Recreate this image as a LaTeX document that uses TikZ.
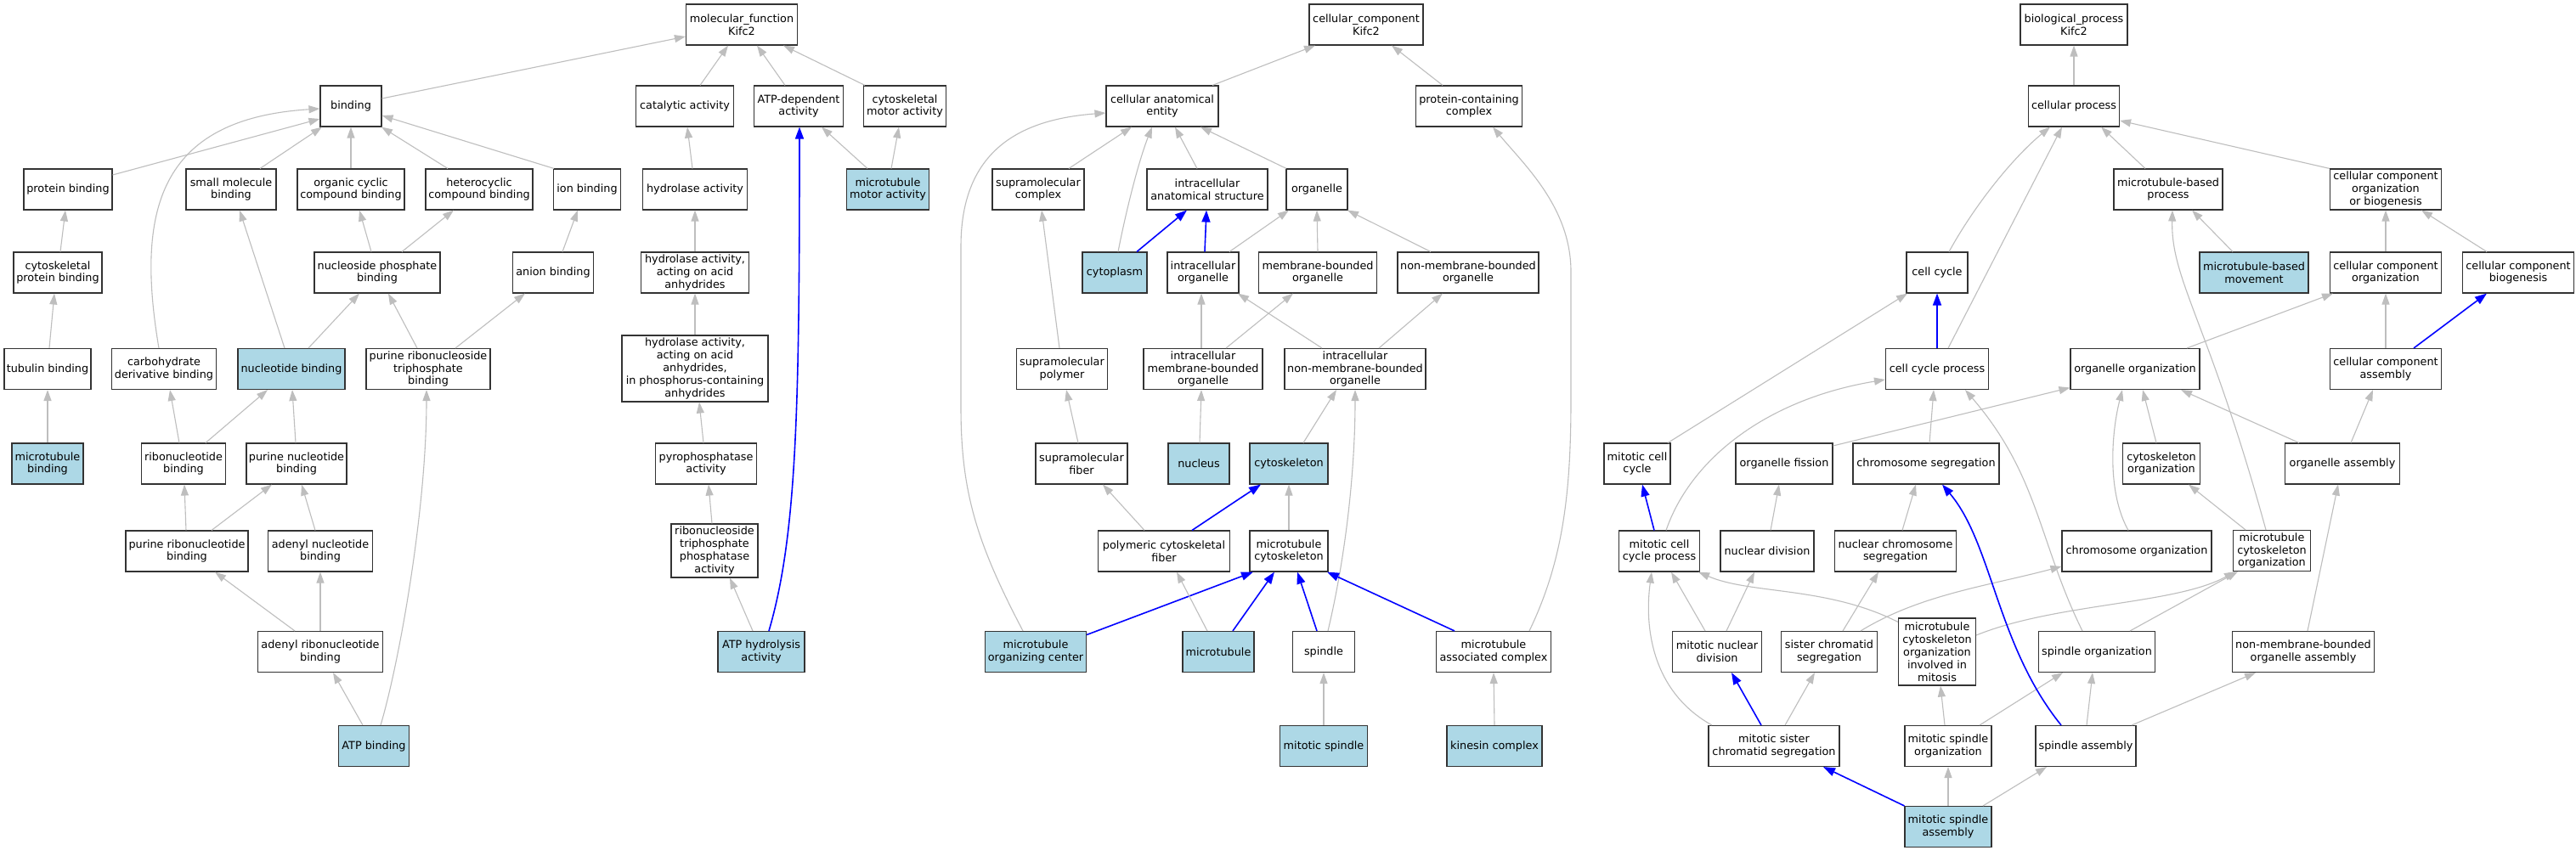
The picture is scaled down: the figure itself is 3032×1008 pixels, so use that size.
\documentclass[tikz,border=0pt]{standalone}
\usepackage{fontspec}
\setmainfont{DejaVu Sans}
\usetikzlibrary{arrows.meta}
\definecolor{edgegray}{HTML}{BEBEBE}
\definecolor{hlblue}{HTML}{ADD8E6}
\definecolor{edgeblue}{HTML}{0000FF}
\begin{document}
\begin{tikzpicture}[x=1pt,y=-1pt,
  box/.style={draw=black!80, line width=1.1pt, fill=white, inner sep=0pt, align=center, font=\fontsize{12.8}{14.9}\selectfont, minimum height=48pt},
  hl/.style={fill=hlblue},
  ge/.style={draw=edgegray, line width=1.1pt, -{Triangle[length=13pt,width=9pt]}},
  be/.style={draw=edgeblue, line width=1.6pt, -{Triangle[length=14pt,width=10pt]}}]
\useasboundingbox[fill=white] (0,0) rectangle (3032,1008);
% ---------------- molecular function ----------------
\node[box,minimum width=131pt] (mf) at (873,29) {molecular\_function\\Kifc2};
\node[box,minimum width=72pt] (binding) at (413,125) {binding};
\node[box,minimum width=115pt] (catalytic) at (806,125) {catalytic activity};
\node[box,minimum width=105pt] (atpdep) at (940,125) {ATP-dependent\\activity};
\node[box,minimum width=97pt] (cytomotor) at (1065,125) {cytoskeletal\\motor activity};
\node[box,minimum width=104pt] (protbind) at (80,223) {protein binding};
\node[box,minimum width=106pt] (smallmol) at (272,223) {small molecule\\binding};
\node[box,minimum width=126pt] (orgcyc) at (413,223) {organic cyclic\\compound binding};
\node[box,minimum width=126pt] (hetero) at (564,223) {heterocyclic\\compound binding};
\node[box,minimum width=79pt] (ionbind) at (691,223) {ion binding};
\node[box,minimum width=123pt] (hydrolase) at (818,223) {hydrolase activity};
\node[box,hl,minimum width=97pt] (mtmotor) at (1045,223) {microtubule\\motor activity};
\node[box,minimum width=104pt] (cytoprot) at (68,321) {cytoskeletal\\protein binding};
\node[box,minimum width=148pt] (nucphos) at (444,321) {nucleoside phosphate\\binding};
\node[box,minimum width=95pt] (anion) at (651,321) {anion binding};
\node[box,minimum width=127pt] (hydacid) at (818,321) {hydrolase activity,\\acting on acid\\anhydrides};
\node[box,minimum width=102pt] (tubulin) at (56,434.5) {tubulin binding};
\node[box,minimum width=123pt] (carbo) at (193,434.5) {carbohydrate\\derivative binding};
\node[box,hl,minimum width=126pt] (nucleotide) at (343,434.5) {nucleotide binding};
\node[box,minimum width=146pt] (prtb) at (504,434.5) {purine ribonucleoside\\triphosphate\\binding};
\node[box,minimum width=172pt,minimum height=78pt] (hydphos) at (818,434) {hydrolase activity,\\acting on acid\\anhydrides,\\in phosphorus-containing\\anhydrides};
\node[box,hl,minimum width=84pt] (mtbind) at (56,546) {microtubule\\binding};
\node[box,minimum width=99pt] (ribonuc) at (216,546) {ribonucleotide\\binding};
\node[box,minimum width=118pt] (purnuc) at (349,546) {purine nucleotide\\binding};
\node[box,minimum width=119pt] (pyro) at (831,546) {pyrophosphatase\\activity};
\node[box,minimum width=144pt] (purribo) at (220,649) {purine ribonucleotide\\binding};
\node[box,minimum width=123pt] (adenyl) at (377,649) {adenyl nucleotide\\binding};
\node[box,minimum width=102pt,minimum height=63pt] (rtpa) at (841,648.5) {ribonucleoside\\triphosphate\\phosphatase\\activity};
\node[box,minimum width=147pt] (adribo) at (377,767.5) {adenyl ribonucleotide\\binding};
\node[box,hl,minimum width=102pt] (atphyd) at (896,767.5) {ATP hydrolysis\\activity};
\node[box,hl,minimum width=83pt] (atpbind) at (440,878.5) {ATP binding};
% ---------------- cellular component ----------------
\node[box,minimum width=134pt] (cc) at (1608,29) {cellular\_component\\Kifc2};
\node[box,minimum width=132pt] (cae) at (1368,125) {cellular anatomical\\entity};
\node[box,minimum width=125pt] (pcc) at (1729,125) {protein-containing\\complex};
\node[box,minimum width=108pt] (supcomplex) at (1222,223) {supramolecular\\complex};
\node[box,minimum width=142pt] (ias) at (1421,223) {intracellular\\anatomical structure};
\node[box,minimum width=72pt] (organelle) at (1550,223) {organelle};
\node[box,hl,minimum width=76pt] (cytoplasm) at (1312,321) {cytoplasm};
\node[box,minimum width=84pt] (intorg) at (1416,321) {intracellular\\organelle};
\node[box,minimum width=139pt] (mbo) at (1551,321) {membrane-bounded\\organelle};
\node[box,minimum width=166pt] (nmbo) at (1728,321) {non-membrane-bounded\\organelle};
\node[box,minimum width=107pt] (suppoly) at (1250,434.5) {supramolecular\\polymer};
\node[box,minimum width=140pt] (imbo) at (1416,434.5) {intracellular\\membrane-bounded\\organelle};
\node[box,minimum width=166pt] (inmbo) at (1595,434.5) {intracellular\\non-membrane-bounded\\organelle};
\node[box,minimum width=108pt] (supfiber) at (1273,546) {supramolecular\\fiber};
\node[box,hl,minimum width=72pt] (nucleus) at (1411,546) {nucleus};
\node[box,hl,minimum width=92pt] (cytoskel) at (1517,546) {cytoskeleton};
\node[box,minimum width=155pt] (pcf) at (1370,649) {polymeric cytoskeletal\\fiber};
\node[box,minimum width=92pt] (mtcyto) at (1517,649) {microtubule\\cytoskeleton};
\node[box,hl,minimum width=119pt] (mtoc) at (1219,767.5) {microtubule\\organizing center};
\node[box,hl,minimum width=84pt] (microtubule) at (1434,767.5) {microtubule};
\node[box,minimum width=73pt] (spindle) at (1558,767.5) {spindle};
\node[box,minimum width=135pt] (mac) at (1758,767.5) {microtubule\\associated complex};
\node[box,hl,minimum width=103pt] (mitspindle) at (1558,878.5) {mitotic spindle};
\node[box,hl,minimum width=112pt] (kinesin) at (1759,878.5) {kinesin complex};
% ---------------- biological process ----------------
\node[box,minimum width=126pt] (bp) at (2441,29) {biological\_process\\Kifc2};
\node[box,minimum width=107pt] (cellproc) at (2441,125) {cellular process};
\node[box,minimum width=128pt] (mbp) at (2552,223) {microtubule-based\\process};
\node[box,minimum width=131pt] (ccoob) at (2808,223) {cellular component\\organization\\or biogenesis};
\node[box,minimum width=72pt] (cellcycle) at (2280,321) {cell cycle};
\node[box,hl,minimum width=128pt] (mbm) at (2653,321) {microtubule-based\\movement};
\node[box,minimum width=131pt] (cco) at (2808,321) {cellular component\\organization};
\node[box,minimum width=131pt] (ccb) at (2964,321) {cellular component\\biogenesis};
\node[box,minimum width=121pt] (ccp) at (2280,434.5) {cell cycle process};
\node[box,minimum width=152pt] (oo) at (2513,434.5) {organelle organization};
\node[box,minimum width=131pt] (cca) at (2808,434.5) {cellular component\\assembly};
\node[box,minimum width=78pt] (mcc) at (1927,546) {mitotic cell\\cycle};
\node[box,minimum width=114pt] (ofission) at (2100,546) {organelle fission};
\node[box,minimum width=172pt] (chromseg) at (2267,546) {chromosome segregation};
\node[box,minimum width=91pt] (cytoorg) at (2544,546) {cytoskeleton\\organization};
\node[box,minimum width=135pt] (oassembly) at (2757,546) {organelle assembly};
\node[box,minimum width=95pt] (mccp) at (1953,649) {mitotic cell\\cycle process};
\node[box,minimum width=110pt] (nucdiv) at (2080,649) {nuclear division};
\node[box,minimum width=143pt] (ncs) at (2231,649) {nuclear chromosome\\segregation};
\node[box,minimum width=176pt] (chromorg) at (2515,649) {chromosome organization};
\node[box,minimum width=91pt] (mco) at (2674,648.5) {microtubule\\cytoskeleton\\organization};
\node[box,minimum width=105pt] (mnd) at (2021,767.5) {mitotic nuclear\\division};
\node[box,minimum width=113pt] (scs) at (2153,767.5) {sister chromatid\\segregation};
\node[box,minimum width=91pt,minimum height=79pt] (mcoim) at (2280,767.5) {microtubule\\cytoskeleton\\organization\\involved in\\mitosis};
\node[box,minimum width=137pt] (sporg) at (2468,767.5) {spindle organization};
\node[box,minimum width=167pt] (nmboa) at (2711,767.5) {non-membrane-bounded\\organelle assembly};
\node[box,minimum width=154pt] (mscs) at (2088,878.5) {mitotic sister\\chromatid segregation};
\node[box,minimum width=102pt] (mso) at (2293,878.5) {mitotic spindle\\organization};
\node[box,minimum width=118pt] (spassembly) at (2455,878.5) {spindle assembly};
\node[box,hl,minimum width=102pt] (msa) at (2293,973.5) {mitotic spindle\\assembly};
% ================= edges: molecular function =================
\draw[ge] ([yshift=9]binding.east) -- ([yshift=-14]mf.west);
\draw[ge] ([xshift=18]catalytic.north) -- ([xshift=-16]mf.south);
\draw[ge] ([xshift=-16]atpdep.north) -- ([xshift=18]mf.south);
\draw[ge] ([xshift=-47]cytomotor.north) -- ([xshift=49]mf.south);
\draw[ge] ([yshift=17]protbind.east) -- ([yshift=-15]binding.west);
\draw[ge] ([xshift=34]smallmol.north) -- ([xshift=-34]binding.south);
\draw[ge] (orgcyc.north) -- (binding.south);
\draw[ge] ([xshift=-37]hetero.north) -- ([xshift=36]binding.south);
\draw[ge] ([xshift=-39]ionbind.north) -- ([yshift=-11]binding.east);
\draw[ge] ([xshift=-6]carbo.north) .. controls (160,250) and (185,140) .. ([yshift=-3]binding.west);
\draw[ge] ([xshift=3]cytoprot.north) -- ([xshift=-3]protbind.south);
\draw[ge] ([xshift=2]tubulin.north) -- ([xshift=-4]cytoprot.south);
\draw[ge] (mtbind.north) -- (tubulin.south);
\draw[ge] ([xshift=-7]nucphos.north) -- ([xshift=10]orgcyc.south);
\draw[ge] ([xshift=29]nucphos.north) -- ([xshift=-30]hetero.south);
\draw[ge] ([xshift=-8]nucleotide.north) -- ([xshift=10]smallmol.south);
\draw[ge] ([xshift=20]nucleotide.north) -- ([xshift=-21]nucphos.south);
\draw[ge] ([xshift=-13]prtb.north) -- ([xshift=13]nucphos.south);
\draw[ge] ([xshift=11]anion.north) -- ([xshift=-11]ionbind.south);
\draw[ge] ([xshift=32]prtb.north) -- ([xshift=-33]anion.south);
\draw[ge] ([xshift=-5]ribonuc.north) -- ([xshift=7]carbo.south);
\draw[ge] ([xshift=26]ribonuc.north) -- ([xshift=-28]nucleotide.south);
\draw[ge] ([xshift=-1]purnuc.north) -- ([xshift=1]nucleotide.south);
\draw[ge] ([xshift=-1]purribo.north) -- ([xshift=1]ribonuc.south);
\draw[ge] ([xshift=29]purribo.north) -- ([xshift=-29]purnuc.south);
\draw[ge] ([xshift=-6]adenyl.north) -- ([xshift=6]purnuc.south);
\draw[ge] ([xshift=-30]adribo.north) -- ([xshift=33]purribo.south);
\draw[ge] (adribo.north) -- (adenyl.south);
\draw[ge] ([xshift=-13]atpbind.north) -- ([xshift=15]adribo.south);
\draw[ge] ([xshift=8]atpbind.north) .. controls (470,780) and (502,600) .. ([xshift=-2]prtb.south);
\draw[ge] ([xshift=-3]hydrolase.north) -- ([xshift=3]catalytic.south);
\draw[ge] (hydacid.north) -- (hydrolase.south);
\draw[ge] (hydphos.north) -- (hydacid.south);
\draw[ge] ([xshift=-3]pyro.north) -- ([xshift=5]hydphos.south);
\draw[ge] ([xshift=-3]rtpa.north) -- ([xshift=3]pyro.south);
\draw[ge] ([xshift=-10]atphyd.north) -- ([xshift=18]rtpa.south);
\draw[be] ([xshift=9]atphyd.north) .. controls (938,630) and (941,480) .. ([xshift=1]atpdep.south);
\draw[ge] ([xshift=-24]mtmotor.north) -- ([xshift=27]atpdep.south);
\draw[ge] ([xshift=4]mtmotor.north) -- ([xshift=-7]cytomotor.south);
% ================= edges: cellular component =================
\draw[ge] ([xshift=59]cae.north) -- ([xshift=-60]cc.south);
\draw[ge] ([xshift=-31]pcc.north) -- ([xshift=30]cc.south);
\draw[ge] ([xshift=36]supcomplex.north) -- ([xshift=-36]cae.south);
\draw[ge] ([xshift=4]cytoplasm.north) .. controls (1325,250) and (1340,190) .. ([xshift=-12]cae.south);
\draw[ge] ([xshift=-12]ias.north) -- ([xshift=15]cae.south);
\draw[ge] ([xshift=-36]organelle.north) -- ([xshift=45]cae.south);
\draw[be] ([xshift=26]cytoplasm.north) -- ([xshift=-24]ias.south);
\draw[be] ([xshift=2]intorg.north) -- ([xshift=-1]ias.south);
\draw[ge] ([xshift=31]intorg.north) -- ([xshift=-33]organelle.south);
\draw[ge] (mbo.north) -- (organelle.south);
\draw[ge] ([xshift=-44]nmbo.north) -- ([xshift=36]organelle.south);
\draw[ge] ([xshift=-3]suppoly.north) -- ([xshift=4]supcomplex.south);
\draw[ge] ([xshift=-2]imbo.north) -- ([xshift=-2]intorg.south);
\draw[ge] ([xshift=27]imbo.north) -- ([xshift=-29]mbo.south);
\draw[ge] ([xshift=-39]inmbo.north) -- ([xshift=41]intorg.south);
\draw[ge] ([xshift=28]inmbo.north) -- ([xshift=-30]nmbo.south);
\draw[ge] ([xshift=-4]supfiber.north) -- ([xshift=5]suppoly.south);
\draw[ge] ([xshift=1]nucleus.north) -- ([xshift=-2]imbo.south);
\draw[ge] ([xshift=17]cytoskel.north) -- ([xshift=-22]inmbo.south);
\draw[ge] ([xshift=-23]pcf.north) -- ([xshift=25]supfiber.south);
\draw[be] ([xshift=33]pcf.north) -- ([xshift=-33]cytoskel.south);
\draw[ge] (mtcyto.north) -- (cytoskel.south);
\draw[ge] ([xshift=-15]mtoc.north) .. controls (1150,640) and (1131,580) .. (1131,480) -- (1131,290) .. controls (1131,170) and (1210,140) .. ([yshift=-8]cae.west);
\draw[be] ([yshift=20]mtoc.east) -- ([xshift=-42]mtcyto.south);
\draw[ge] ([xshift=-13]microtubule.north) -- ([xshift=15]pcf.south);
\draw[be] ([xshift=17]microtubule.north) -- ([xshift=-17]mtcyto.south);
\draw[be] ([xshift=-8]spindle.north) -- ([xshift=10]mtcyto.south);
\draw[ge] ([xshift=5]spindle.north) .. controls (1585,650) and (1595,550) .. (inmbo.south);
\draw[be] ([xshift=-46]mac.north) -- ([xshift=45]mtcyto.south);
\draw[ge] ([xshift=42]mac.north) .. controls (1840,660) and (1849,580) .. (1849,470) -- (1849,320) .. controls (1849,245) and (1795,195) .. ([xshift=28]pcc.south);
\draw[ge] (mitspindle.north) -- (spindle.south);
\draw[ge] (kinesin.north) -- (mac.south);
% ================= edges: biological process =================
\draw[ge] (cellproc.north) -- (bp.south);
\draw[ge] ([xshift=14]cellcycle.north) .. controls (2325,240) and (2370,185) .. ([xshift=-28]cellproc.south);
\draw[ge] ([xshift=13]ccp.north) -- ([xshift=-14]cellproc.south);
\draw[ge] ([xshift=-27]mbp.north) -- ([xshift=32]cellproc.south);
\draw[ge] (ccoob.north west) -- ([yshift=-17]cellproc.east);
\draw[be] (ccp.north) -- (cellcycle.south);
\draw[ge] ([xshift=-25]mbm.north) -- ([xshift=28]mbp.south);
\draw[ge] (cco.north) -- (ccoob.south);
\draw[ge] ([xshift=-37]ccb.north) -- ([xshift=42]ccoob.south);
\draw[ge] (cca.north) -- (cco.south);
\draw[be] ([xshift=33]cca.north) -- ([xshift=-37]ccb.south);
\draw[ge] ([xshift=61]oo.north) -- ([xshift=-62]cco.south);
\draw[ge] ([xshift=36]mcc.north) -- ([xshift=-35]cellcycle.south);
\draw[ge] ([xshift=8]mccp.north) .. controls (1990,540) and (2080,470) .. ([yshift=-12.5]ccp.west);
\draw[be] ([xshift=-6]mccp.north) -- ([xshift=6]mcc.south);
\draw[ge] ([yshift=21]ofission.east) -- ([yshift=-22]oo.west);
\draw[ge] ([xshift=4]chromseg.north) -- ([xshift=-4]ccp.south);
\draw[ge] ([xshift=4]nucdiv.north) -- ([xshift=-6]ofission.south);
\draw[ge] ([xshift=8]ncs.north) -- ([xshift=-12]chromseg.south);
\draw[ge] ([xshift=-10]chromorg.north) .. controls (2480,580) and (2485,510) .. ([xshift=-15]oo.south);
\draw[ge] ([xshift=-6]cytoorg.north) -- ([xshift=9]oo.south);
\draw[ge] ([xshift=-51]oassembly.north) -- ([xshift=54]oo.south);
\draw[ge] ([xshift=10]oassembly.north) -- ([xshift=-15]cca.south);
\draw[ge] ([xshift=-17]sporg.north) .. controls (2400,640) and (2400,560) .. ([xshift=33]ccp.south);
\draw[ge] ([xshift=-31]mco.north) -- ([xshift=32]cytoorg.south);
\draw[ge] ([xshift=-7]mco.north) .. controls (2600,380) and (2555,330) .. ([xshift=5]mbp.south);
\draw[ge] ([xshift=-14]mnd.north) -- ([xshift=14]mccp.south);
\draw[ge] ([xshift=11]mnd.north) -- ([xshift=-15]nucdiv.south);
\draw[ge] ([xshift=16]scs.north) -- ([xshift=-20]ncs.south);
\draw[ge] ([xshift=37]scs.north) .. controls (2260,700) and (2340,690) .. ([yshift=-18]chromorg.west);
\draw[ge] ([yshift=-5]mcoim.north west) .. controls (2150,690) and (2060,700) .. ([xshift=-2]mccp.south east);
\draw[ge] ([yshift=19.5]mcoim.east) .. controls (2420,710) and (2560,712) .. ([xshift=-43]mco.south);
\draw[ge] ([xshift=39]sporg.north) -- ([xshift=-40]mco.south);
\draw[ge] ([xshift=-73]mscs.north) .. controls (1945,815) and (1935,740) .. ([xshift=-9]mccp.south);
\draw[be] ([xshift=-15]mscs.north) -- ([xshift=17]mnd.south);
\draw[ge] ([xshift=13]mscs.north) -- ([xshift=-17]scs.south);
\draw[ge] ([xshift=-4]mso.north) -- ([xshift=4]mcoim.south);
\draw[ge] ([xshift=37]mso.north) -- ([xshift=-40]sporg.south);
\draw[ge] ([xshift=1]spassembly.north) -- ([xshift=-5]sporg.south);
\draw[be] ([xshift=-29]spassembly.north) .. controls (2350,760) and (2345,640) .. ([xshift=19]chromseg.south);
\draw[ge] ([xshift=54]spassembly.north) -- ([xshift=-56]nmboa.south);
\draw[ge] ([xshift=5]nmboa.north) -- ([xshift=-5]oassembly.south);
\draw[be] (msa.north west) -- ([xshift=58]mscs.south);
\draw[ge] (msa.north) -- (mso.south);
\draw[ge] ([xshift=41]msa.north) -- ([xshift=-46]spassembly.south);
\end{tikzpicture}
\end{document}
